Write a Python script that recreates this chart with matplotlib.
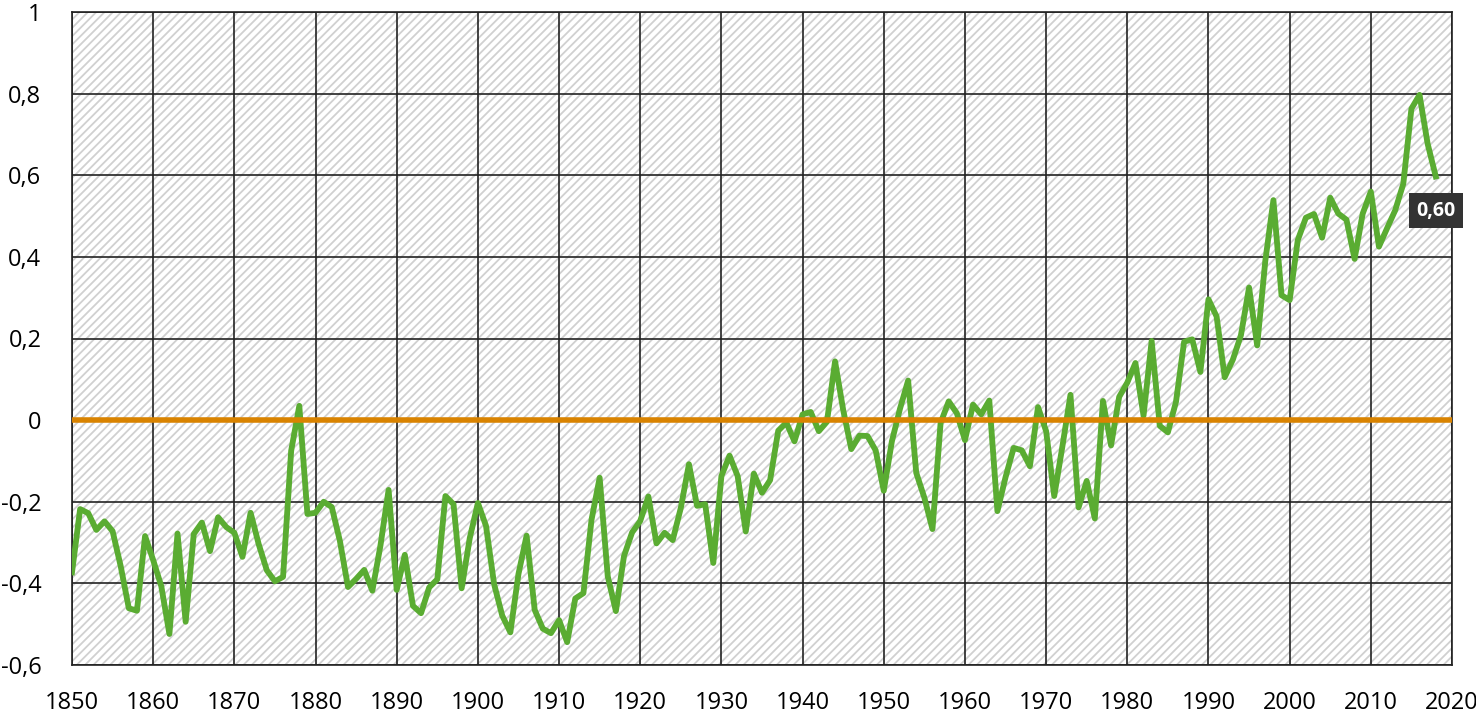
import matplotlib
matplotlib.use('Agg')
import matplotlib.pyplot as plt
import matplotlib.ticker as ticker
from matplotlib.patches import Rectangle

# annual global temperature anomaly, 1850-2018
years = list(range(1850, 2019))
anomaly = [
    -0.373, -0.218, -0.228, -0.269, -0.248, -0.272, -0.358, -0.461, -0.467, -0.284,
    -0.343, -0.407, -0.524, -0.278, -0.494, -0.279, -0.251, -0.321, -0.238, -0.262,
    -0.276, -0.335, -0.227, -0.304, -0.368, -0.395, -0.384, -0.075, 0.035, -0.230,
    -0.227, -0.200, -0.213, -0.296, -0.409, -0.389, -0.367, -0.418, -0.307, -0.171,
    -0.416, -0.330, -0.455, -0.473, -0.410, -0.390, -0.186, -0.206, -0.412, -0.289,
    -0.203, -0.259, -0.402, -0.479, -0.520, -0.377, -0.283, -0.465, -0.511, -0.522,
    -0.490, -0.544, -0.437, -0.424, -0.244, -0.141, -0.383, -0.468, -0.333, -0.275,
    -0.247, -0.187, -0.302, -0.276, -0.294, -0.215, -0.108, -0.210, -0.206, -0.350,
    -0.137, -0.087, -0.137, -0.273, -0.131, -0.178, -0.147, -0.026, -0.006, -0.052,
    0.014, 0.020, -0.027, -0.004, 0.144, 0.025, -0.071, -0.038, -0.039, -0.074,
    -0.173, -0.052, 0.028, 0.097, -0.129, -0.190, -0.267, -0.007, 0.046, 0.017,
    -0.049, 0.038, 0.014, 0.048, -0.223, -0.140, -0.068, -0.074, -0.113, 0.032,
    -0.027, -0.186, -0.065, 0.062, -0.214, -0.149, -0.241, 0.047, -0.062, 0.057,
    0.092, 0.140, 0.011, 0.194, -0.014, -0.030, 0.045, 0.192, 0.198, 0.118,
    0.296, 0.254, 0.105, 0.148, 0.208, 0.325, 0.183, 0.390, 0.539, 0.306,
    0.294, 0.441, 0.496, 0.505, 0.447, 0.545, 0.506, 0.491, 0.395, 0.506,
    0.560, 0.425, 0.470, 0.514, 0.579, 0.763, 0.797, 0.677, 0.597,
]
x_ticks = list(range(1850, 2021, 10))
y_ticks = [-0.6, -0.4, -0.2, 0, 0.2, 0.4, 0.6, 0.8, 1]
last_label = '0,60'

plt.rcParams['font.family'] = ['Open Sans', 'DejaVu Sans']
plt.rcParams['hatch.linewidth'] = 1.3

fig = plt.figure(figsize=(14.76, 7.18), dpi=100)
ax = fig.add_axes([72 / 1476, 53 / 718, 1380 / 1476, 653 / 718])

# hatched background
bg = Rectangle((0, 0), 1, 1, transform=ax.transAxes, facecolor='white',
               edgecolor='#d0d0d0', hatch='////', linewidth=0, zorder=0)
ax.add_patch(bg)

ax.plot(years, anomaly, color='#5aac32', linewidth=4.2, zorder=3)
ax.axhline(0, color='#d98300', linewidth=4.0, zorder=4)

ax.annotate(last_label, xy=(years[-1], anomaly[-1]), xytext=(0, -24.5),
            textcoords='offset points', ha='center', va='center',
            color='white', fontsize=14, fontweight='bold', zorder=5,
            annotation_clip=False,
            bbox=dict(boxstyle='square,pad=0.38', fc='#333333', ec='none'))

ax.set_xlim(1850, 2020)
ax.set_ylim(-0.6, 1)
ax.xaxis.set_major_locator(ticker.FixedLocator(x_ticks))
ax.yaxis.set_major_locator(ticker.FixedLocator(y_ticks))
ax.yaxis.set_major_formatter(ticker.FuncFormatter(
    lambda v, p: ('%g' % round(v, 1)).replace('.', ',')))

ax.set_axisbelow(True)
ax.grid(True, color='#222222', linewidth=1.2)
ax.tick_params(length=0, labelsize=17, colors='black')
ax.tick_params(axis='y', pad=22)
ax.tick_params(axis='x', pad=19)
for s in ax.spines.values():
    s.set_color('#222222')
    s.set_linewidth(1.2)

fig.savefig('out.png', dpi=100)
